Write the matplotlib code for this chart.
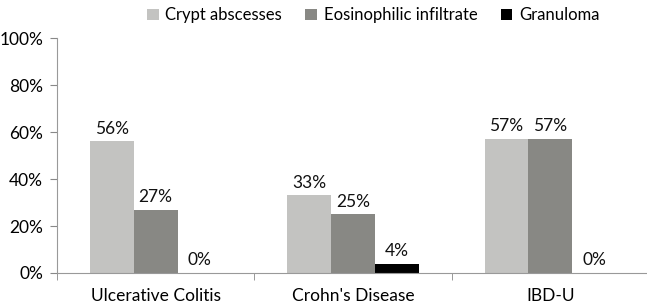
import matplotlib.pyplot as plt
import numpy as np

categories = ['Ulcerative Colitis', "Crohn's Disease", 'IBD-U']
series = ['Crypt abscesses', 'Eosinophilic infiltrate', 'Granuloma']
crypt = [56, 33, 57]
eosin = [27, 25, 57]
granuloma = [0, 4, 0]
colors = ['#c3c3c1', '#888884', '#000000']

plt.rcParams['font.family'] = ['Lato', 'DejaVu Sans']

fig = plt.figure(figsize=(6.47, 3.05), dpi=100)
ax = fig.add_axes([0.088, 0.105, 0.915, 0.77])

x = np.arange(len(categories))
w = 0.222
for i, (vals, name) in enumerate(zip([crypt, eosin, granuloma], series)):
    pos = x + (i - 1) * w
    ax.bar(pos, vals, w, color=colors[i], label=name)
    for p, v in zip(pos, vals):
        ax.text(p, v + 2, f'{v}%', ha='center', va='bottom', fontsize=12.5, color='#111111')

ax.set_xlim(-0.5, 2.5)
ax.set_ylim(0, 100)
ax.set_yticks(range(0, 101, 20))
ax.set_yticklabels([f'{t}%' for t in range(0, 101, 20)], fontsize=12.5)
ax.set_xticks(x)
ax.set_xticklabels(categories, fontsize=12.5)
ax.tick_params(axis='x', length=0, pad=11)
ax.set_xticks([-0.5, 0.5, 1.5, 2.5], minor=True)
ax.tick_params(axis='x', which='minor', length=5, color='#888888')
ax.tick_params(axis='y', length=5, color='#888888', pad=5)
for s in ['top', 'right']:
    ax.spines[s].set_visible(False)
for s in ['left', 'bottom']:
    ax.spines[s].set_color('#999999')

fig.legend(loc='upper center', bbox_to_anchor=(0.577, 1.025), ncol=3, frameon=False,
           fontsize=12, handlelength=0.7, handleheight=0.7, handletextpad=0.4,
           columnspacing=1.4)

fig.savefig('out.png', dpi=100)
